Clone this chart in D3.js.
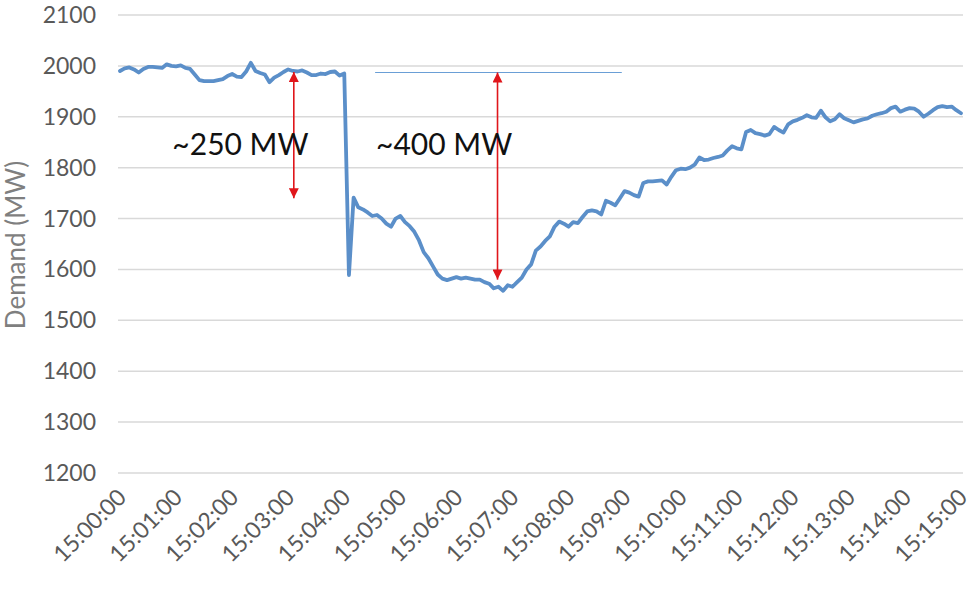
<!DOCTYPE html>
<html>
<head>
<meta charset="utf-8">
<script src="https://cdn.jsdelivr.net/npm/d3@7"></script>
<style>
  html, body { margin: 0; padding: 0; background: #ffffff; }
  svg { display: block; }
</style>
</head>
<body>
<svg id="chart" width="975" height="596"></svg>
<script>
// System demand, sampled every 5 seconds from 15:00:00 to 15:15:00
const startTime = "15:00:00";
const stepSeconds = 5;
const demandMW = [
  1990, 1995, 1997, 1993, 1987, 1994, 1998, 1998, 1997, 1996,
  2003, 2000, 1999, 2001, 1996, 1994, 1983, 1972, 1970, 1970,
  1970, 1972, 1974, 1980, 1984, 1979, 1978, 1989, 2006, 1990,
  1986, 1983, 1968, 1977, 1982, 1988, 1993, 1990, 1989, 1991,
  1987, 1982, 1982, 1985, 1984, 1988, 1989, 1981, 1985, 1589,
  1741, 1722, 1718, 1712, 1705, 1707, 1700, 1690, 1684, 1700,
  1705, 1693, 1685, 1674, 1657, 1634, 1622, 1606, 1590, 1582,
  1579, 1582, 1585, 1582, 1584, 1582, 1580, 1580, 1575, 1572,
  1563, 1566, 1558, 1569, 1566, 1575, 1584, 1600, 1610, 1637,
  1645, 1656, 1665, 1684, 1694, 1690, 1684, 1693, 1691, 1703,
  1714, 1716, 1714, 1708, 1735, 1731, 1726, 1740, 1754, 1751,
  1746, 1743, 1770, 1773, 1773, 1774, 1775, 1767, 1782, 1795,
  1798, 1797, 1800, 1806, 1820, 1815, 1816, 1819, 1821, 1824,
  1834, 1842, 1838, 1836, 1870, 1874, 1868, 1866, 1863, 1866,
  1880, 1874, 1869, 1885, 1891, 1894, 1898, 1903, 1899, 1898,
  1912, 1899, 1891, 1895, 1905, 1897, 1893, 1889, 1892, 1895,
  1897, 1902, 1905, 1907, 1910, 1917, 1920, 1910, 1914, 1917,
  1916, 1910, 1900, 1906, 1913, 1919, 1921, 1919, 1920, 1913,
  1907
];

// Axis ticks
const yTicks = [1200, 1300, 1400, 1500, 1600, 1700, 1800, 1900, 2000, 2100];
const xTickLabels = [
  "15:00:00", "15:01:00", "15:02:00", "15:03:00", "15:04:00", "15:05:00",
  "15:06:00", "15:07:00", "15:08:00", "15:09:00", "15:10:00", "15:11:00",
  "15:12:00", "15:13:00", "15:14:00", "15:15:00"
];

// Annotations: drop arrows, their labels and the pre-event reference level
const arrowTimes = ["15:03:06", "15:06:44"];
const arrowFrom = [1988, 1987];
const arrowTo = [1740, 1580];
const noteTexts = ["~250 MW", "~400 MW"];
const noteTimes = ["15:00:56", "15:04:34"];
const noteValues = [1825, 1825];
const refLineTimes = ["15:04:33", "15:08:57"];
const refLineValue = 1987;

const parseTime = d3.timeParse("%H:%M:%S");
const t0 = parseTime(startTime);
const series = demandMW.map((v, i) => ({
  t: new Date(t0.getTime() + i * stepSeconds * 1000),
  v
}));

const svg = d3.select("#chart");
const plotLeft = 120, plotRight = 961, plotTop = 15, plotBottom = 473;

const x = d3.scaleTime()
  .domain([parseTime(xTickLabels[0]), parseTime(xTickLabels[xTickLabels.length - 1])])
  .range([plotLeft, plotRight]);
const y = d3.scaleLinear()
  .domain([1200, 2100])
  .range([plotBottom, plotTop]);

const tickFont = "Lato, 'Open Sans', sans-serif";

// Horizontal gridlines
svg.append("g")
  .selectAll("line")
  .data(yTicks)
  .join("line")
  .attr("x1", plotLeft - 2)
  .attr("x2", plotRight + 2)
  .attr("y1", d => y(d))
  .attr("y2", d => y(d))
  .attr("stroke", "#d9d9d9")
  .attr("stroke-width", 1.5);

// Y axis tick labels
svg.append("g")
  .selectAll("text")
  .data(yTicks)
  .join("text")
  .attr("x", 96)
  .attr("y", d => y(d))
  .attr("dy", "0.35em")
  .attr("text-anchor", "end")
  .attr("font-family", tickFont)
  .attr("font-size", 23)
  .attr("fill", "#595959")
  .text(d => d);

// X axis tick labels, rotated
svg.append("g")
  .selectAll("text")
  .data(xTickLabels)
  .join("text")
  .attr("transform", d => `translate(${x(parseTime(d)) + 2},${493}) rotate(-45)`)
  .attr("dy", "0.35em")
  .attr("text-anchor", "end")
  .attr("font-family", tickFont)
  .attr("font-size", 23)
  .attr("fill", "#595959")
  .text(d => d);

// Y axis title
svg.append("text")
  .attr("transform", `translate(25,245) rotate(-90)`)
  .attr("text-anchor", "middle")
  .attr("font-family", tickFont)
  .attr("font-size", 26)
  .attr("fill", "#7f7f7f")
  .text("Demand (MW)");

// Demand line
const line = d3.line()
  .x(d => x(d.t))
  .y(d => y(d.v));

svg.append("path")
  .datum(series)
  .attr("d", line)
  .attr("fill", "none")
  .attr("stroke", "#5b8fc9")
  .attr("stroke-width", 3.8)
  .attr("stroke-linejoin", "round")
  .attr("stroke-linecap", "round");

// Pre-event reference level
svg.append("line")
  .attr("x1", x(parseTime(refLineTimes[0])))
  .attr("x2", x(parseTime(refLineTimes[1])))
  .attr("y1", y(refLineValue))
  .attr("y2", y(refLineValue))
  .attr("stroke", "#6a9fd6")
  .attr("stroke-width", 1.2);

// Double-headed red arrows
const defs = svg.append("defs");
defs.append("marker")
  .attr("id", "head")
  .attr("viewBox", "0 0 10 10")
  .attr("refX", 10)
  .attr("refY", 5)
  .attr("markerUnits", "userSpaceOnUse")
  .attr("markerWidth", 12)
  .attr("markerHeight", 10)
  .attr("orient", "auto-start-reverse")
  .append("path")
  .attr("d", "M0,0 L10,5 L0,10 Z")
  .attr("fill", "#e0161b");

svg.append("g")
  .selectAll("line")
  .data(arrowTimes)
  .join("line")
  .attr("x1", d => x(parseTime(d)))
  .attr("x2", d => x(parseTime(d)))
  .attr("y1", (d, i) => y(arrowFrom[i]))
  .attr("y2", (d, i) => y(arrowTo[i]))
  .attr("stroke", "#e0161b")
  .attr("stroke-width", 1.6)
  .attr("marker-start", "url(#head)")
  .attr("marker-end", "url(#head)");

// Arrow labels
svg.append("g")
  .selectAll("text")
  .data(noteTexts)
  .join("text")
  .attr("x", (d, i) => x(parseTime(noteTimes[i])))
  .attr("y", (d, i) => y(noteValues[i]))
  .attr("font-family", "Lato, 'Open Sans', sans-serif")
  .attr("font-size", 30)
  .attr("fill", "#111111")
  .text(d => d);
</script>
</body>
</html>
